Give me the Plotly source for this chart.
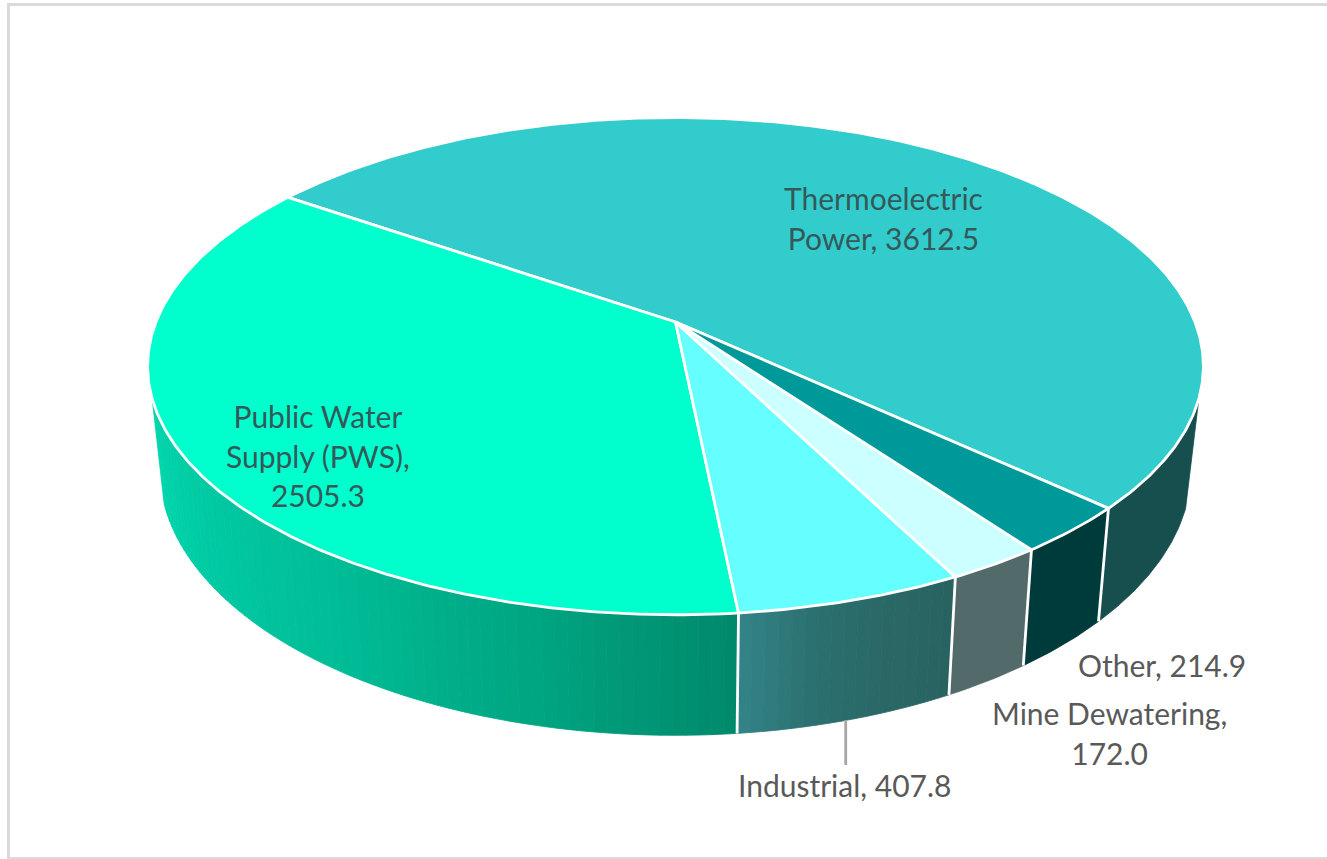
import numpy as np
import plotly.graph_objects as go

# ---- data ----
categories = ["Thermoelectric Power", "Public Water Supply (PWS)", "Industrial", "Mine Dewatering", "Other"]
values = [3612.5, 2505.3, 407.8, 172.0, 214.9]
top_colors = ["#33CCCC", "#00FFCC", "#66FFFF", "#CCFFFF", "#009999"]
wall_stops = [
    ["#174F4F", "#174F4F"],
    ["#00D6AC", "#00C9A2", "#00BC96", "#00A682", "#00896B"],
    ["#338488", "#2B7070", "#2A6866", "#286361"],
    ["#536A6B", "#536A6B"],
    ["#003B3B", "#003B3B"],
]
label_lines = [
    ["Thermoelectric", "Power, 3612.5"],
    ["Public Water", "Supply (PWS),", "2505.3"],
    ["Industrial, 407.8"],
    ["Mine Dewatering,", "172.0"],
    ["Other, 214.9"],
]
label_centers = [(883, 218), (318, 455), (844, 785), (1109, 733), (1162, 665)]
label_colors = ["#35595A", "#35595A", "#595959", "#595959", "#595959"]

# ---- projection of the disc (perspective view) ----
CX, CY = 675.5, 322.0
A, B, K = 519.5, 240.8, 0.1775
SCALE_BOT, B_BOT, CY_BOT = 0.977, 257.7, 422.0
START_DEG = 47.12
WALL_LIMIT = 72.5
LEADER_END_Y, LEADER_SHIFT = 765, -2


def top_xy(deg):
    t = np.radians(deg)
    u, v = np.sin(t), np.cos(t)
    return CX + A * u / (1 - K * v), CY + B * v / (1 - K * v)


def bot_xy(deg):
    t = np.radians(deg)
    u, v = np.sin(t), np.cos(t)
    return CX + SCALE_BOT * A * u / (1 - K * v), CY_BOT + B_BOT * v / (1 - K * v)


def hex_rgb(h):
    return np.array([int(h[i:i + 2], 16) for i in (1, 3, 5)], float)


def mix(stops, f):
    pos = f * (len(stops) - 1)
    i = min(int(pos), len(stops) - 2)
    c = hex_rgb(stops[i]) * (1 - (pos - i)) + hex_rgb(stops[i + 1]) * (pos - i)
    return "rgb(%d,%d,%d)" % tuple(c.round())


spans = [v / sum(values) * 360 for v in values]
starts = START_DEG + np.concatenate([[0], np.cumsum(spans)[:-1]])

fig = go.Figure()


def poly(xs, ys, fill, line_color, width, name):
    fig.add_trace(go.Scatter(x=xs, y=ys, mode="lines", fill="toself", fillcolor=fill,
                             line=dict(color=line_color, width=width), hoverinfo="skip",
                             showlegend=False, name=name))


# walls: visible front part of every slice, drawn as thin gradient strips
for name, s, d, stops in zip(categories, starts, spans, wall_stops):
    ranges = [(s, s + d), (s - 360, s + d - 360)]
    for a, b in ranges:
        lo, hi = max(a, -WALL_LIMIT), min(b, WALL_LIMIT)
        if hi <= lo:
            continue
        n = 1 if stops[0] == stops[-1] else max(2, int((hi - lo) / 1.2))
        grid = np.linspace(lo, hi, n + 1)
        for i in range(n):
            arc = np.linspace(grid[i], grid[i + 1], max(2, int(grid[i + 1] - grid[i]) * 2 + 2))
            tx, ty = top_xy(arc)
            bx, by = bot_xy(arc[::-1])
            col = mix(stops, (i + 0.5) / n)
            poly(np.r_[tx, bx, tx[0]], np.r_[ty, by, ty[0]], col, col, 0.8, name + " wall")

# white separators on the walls
for s in starts:
    d = ((s + 180) % 360) - 180
    if -WALL_LIMIT < d < WALL_LIMIT:
        tx, ty = top_xy(d)
        bx, by = bot_xy(d)
        fig.add_trace(go.Scatter(x=[tx, bx], y=[ty, by], mode="lines",
                                 line=dict(color="white", width=2.8), hoverinfo="skip", showlegend=False))

# top faces
for name, s, d, col in zip(categories, starts, spans, top_colors):
    arc = np.linspace(s, s + d, max(3, int(d) * 2))
    x, y = top_xy(arc)
    poly(np.r_[CX, x, CX], np.r_[CY, y, CY], col, "white", 2.8, name)

# leader line for Industrial
ind = 2
mid = starts[ind] + spans[ind] / 2
lx, ly = bot_xy(mid - 360 if mid > 180 else mid)
lx += LEADER_SHIFT
fig.add_trace(go.Scatter(x=[lx, lx], y=[ly, LEADER_END_Y], mode="lines",
                         line=dict(color="#A6A6A6", width=2.8), hoverinfo="skip", showlegend=False))

# labels
for lines, (x, y), c in zip(label_lines, label_centers, label_colors):
    fig.add_annotation(x=x, y=y, xref="x", yref="y", showarrow=False, xanchor="center", yanchor="middle",
                       align="center", font=dict(family="Lato", size=30.5, color=c),
                       text="<br>".join('<span style="font-size:30px">%s</span>' % l for l in lines))

fig.update_layout(
    width=1327, height=859, margin=dict(l=0, r=0, t=0, b=0),
    paper_bgcolor="white", plot_bgcolor="white", showlegend=False,
    xaxis=dict(range=[0, 1327], visible=False, fixedrange=True),
    yaxis=dict(range=[859, 0], visible=False, fixedrange=True),
    shapes=[dict(type="rect", xref="x", yref="y", x0=8.5, y0=4.5, x1=1345, y1=858.5,
                 line=dict(color="#DADADA", width=3), layer="below")],
)
fig.write_html("out.html", config={"displayModeBar": False},
               post_script="document.body.style.margin='0';document.body.style.overflow='hidden';")
